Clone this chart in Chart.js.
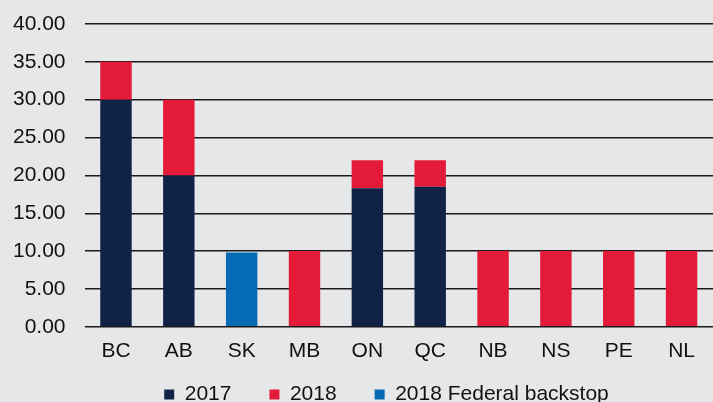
<!DOCTYPE html>
<html lang="en">
<head>
    <meta charset="UTF-8">
    <title>Carbon price by province</title>
    <script src="https://cdn.jsdelivr.net/npm/chart.js"></script>
    <style>
        html, body { margin: 0; padding: 0; background: #e6e7e8; }
        #wrap { width: 713px; height: 402px; }
    </style>
</head>
<body>
    <div id="wrap"><canvas id="grafico"></canvas></div>

    <script>
        const provincias = ['BC', 'AB', 'SK', 'MB', 'ON', 'QC', 'NB', 'NS', 'PE', 'NL'];
        const precio2017 = [30, 20, 0, 0, 18.3, 18.5, 0, 0, 0, 0];
        const precio2018 = [5, 10, 0, 10, 3.7, 3.5, 10, 10, 10, 10];
        const federal2018 = [0, 0, 9.8, 0, 0, 0, 0, 0, 0, 0];

        Chart.defaults.font.family = '"Liberation Sans", Arial, sans-serif';
        Chart.defaults.color = '#111';

        // la leyenda va pegada al borde inferior, con huecos amplios entre items
        const ajusteLeyenda = {
            id: 'ajusteLeyenda',
            afterLayout(chart) {
                const l = chart.legend;
                const h = l.bottom - l.top;
                l.top = 346; l.bottom = 346 + h;
                l.left += 33; l.right += 33;
            }
        };

        const ctx = document.getElementById('grafico').getContext('2d');
        new Chart(ctx, {
            type: 'bar',
            data: {
                labels: provincias,
                datasets: [
                    { label: '2017', data: precio2017, backgroundColor: '#112248' },
                    { label: '2018', data: precio2018, backgroundColor: '#e31b38' },
                    { label: '2018 Federal backstop', data: federal2018, backgroundColor: '#046bb4' }
                ]
            },
            plugins: [ajusteLeyenda],
            options: {
                responsive: true,
                maintainAspectRatio: false,
                animation: false,
                categoryPercentage: 0.5,
                barPercentage: 1,
                layout: { padding: { left: -6, right: 0, top: 24, bottom: -43 } },
                plugins: {
                    tooltip: { enabled: false },
                    legend: {
                        position: 'bottom',
                        labels: {
                            boxWidth: 10,
                            boxHeight: 10,
                            padding: 38,
                            font: { size: 21 },
                            color: '#111'
                        }
                    }
                },
                scales: {
                    x: {
                        stacked: true,
                        grid: { display: false, drawTicks: false },
                        border: { display: false },
                        ticks: { font: { size: 21 }, padding: 12 }
                    },
                    y: {
                        stacked: true,
                        min: 0,
                        max: 40,
                        afterFit: s => { s.paddingTop = 0; },
                        grid: { color: '#1a1a1a', lineWidth: 1.5, drawTicks: false },
                        border: { display: false },
                        ticks: {
                            stepSize: 5,
                            padding: 19,
                            font: { size: 21 },
                            callback: v => v.toFixed(2)
                        }
                    }
                }
            }
        });
    </script>
</body>
</html>
